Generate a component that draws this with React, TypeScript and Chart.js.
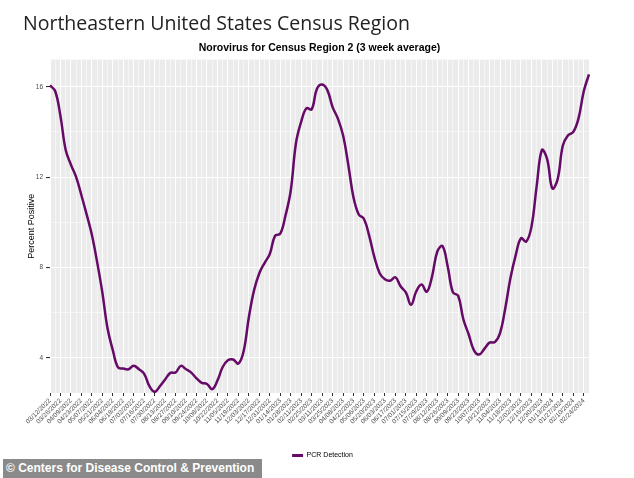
import React, { useEffect, useRef } from 'react';
import { Chart, registerables } from 'chart.js';

Chart.register(...registerables);

const WEEKS: string[] = [
  '03/12/2022', '03/19/2022', '03/26/2022', '04/02/2022', '04/09/2022', '04/16/2022', '04/23/2022', '04/30/2022',
  '05/07/2022', '05/14/2022', '05/21/2022', '05/28/2022', '06/04/2022', '06/11/2022', '06/18/2022', '06/25/2022',
  '07/02/2022', '07/09/2022', '07/16/2022', '07/23/2022', '07/30/2022', '08/06/2022', '08/13/2022', '08/20/2022',
  '08/27/2022', '09/03/2022', '09/10/2022', '09/17/2022', '09/24/2022', '10/01/2022', '10/08/2022', '10/15/2022',
  '10/22/2022', '10/29/2022', '11/05/2022', '11/12/2022', '11/19/2022', '11/26/2022', '12/03/2022', '12/10/2022',
  '12/17/2022', '12/24/2022', '12/31/2022',
  '01/07/2023', '01/14/2023', '01/21/2023', '01/28/2023', '02/04/2023', '02/11/2023', '02/18/2023', '02/25/2023',
  '03/04/2023', '03/11/2023', '03/18/2023', '03/25/2023', '04/01/2023', '04/08/2023', '04/15/2023', '04/22/2023',
  '04/29/2023', '05/06/2023', '05/13/2023', '05/20/2023', '05/27/2023', '06/03/2023', '06/10/2023', '06/17/2023',
  '06/24/2023', '07/01/2023', '07/08/2023', '07/15/2023', '07/22/2023', '07/29/2023', '08/05/2023', '08/12/2023',
  '08/19/2023', '08/26/2023', '09/02/2023', '09/09/2023', '09/16/2023', '09/23/2023', '09/30/2023', '10/07/2023',
  '10/14/2023', '10/21/2023', '10/28/2023', '11/04/2023', '11/11/2023', '11/18/2023', '11/25/2023', '12/02/2023',
  '12/09/2023', '12/16/2023', '12/23/2023', '12/30/2023',
  '01/06/2024', '01/13/2024', '01/20/2024', '01/27/2024', '02/03/2024', '02/10/2024', '02/17/2024', '02/24/2024',
  '03/02/2024',
];

const TICK_LABELS: string[] = [
  '03/12/2022', '03/26/2022', '04/09/2022', '04/23/2022', '05/07/2022', '05/21/2022', '06/04/2022', '06/18/2022',
  '07/02/2022', '07/16/2022', '07/30/2022', '08/13/2022', '08/27/2022', '09/10/2022', '09/24/2022', '10/08/2022',
  '10/22/2022', '11/05/2022', '11/19/2022', '12/03/2022', '12/17/2022', '12/31/2022', '01/14/2023', '01/28/2023',
  '02/11/2023', '02/25/2023', '03/11/2023', '03/25/2023', '04/08/2023', '04/22/2023', '05/06/2023', '05/20/2023',
  '06/03/2023', '06/17/2023', '07/01/2023', '07/15/2023', '07/29/2023', '08/12/2023', '08/26/2023', '09/09/2023',
  '09/23/2023', '10/07/2023', '10/21/2023', '11/04/2023', '11/18/2023', '12/02/2023', '12/16/2023', '12/30/2023',
  '01/13/2024', '01/27/2024', '02/10/2024', '02/24/2024',
];

const PCR_DETECTION: number[] = [
  16.06, 15.8, 14.7, 13.2, 12.55, 12.0, 11.2, 10.35, 9.45, 8.25,
  6.9, 5.3, 4.35, 3.58, 3.53, 3.5, 3.66, 3.5, 3.3, 2.75,
  2.5, 2.75, 3.05, 3.34, 3.36, 3.65, 3.5, 3.35, 3.1, 2.9,
  2.85, 2.62, 3.0, 3.6, 3.9, 3.93, 3.75, 4.3, 5.8, 7.0,
  7.75, 8.2, 8.6, 9.4, 9.5, 10.3, 11.4, 13.5, 14.45, 15.05,
  15.0, 15.9, 16.1, 15.85, 15.1, 14.6, 13.85, 12.55, 11.1, 10.35,
  10.15, 9.4, 8.45, 7.75, 7.48, 7.42, 7.57, 7.17, 6.9, 6.35,
  6.95, 7.25, 6.93, 7.6, 8.7, 8.95, 8.05, 6.9, 6.75, 5.7,
  5.05, 4.35, 4.15, 4.4, 4.68, 4.7, 5.1, 6.2, 7.55, 8.55,
  9.3, 9.15, 9.8, 11.6, 13.2, 12.8, 11.5, 11.9, 13.4, 13.85,
  14.0, 14.6, 15.8, 16.55,
];

const Y_MAJOR: number[] = [4, 8, 12, 16];

const FONT = "'Liberation Sans', Arial, sans-serif";

export default function App() {
  const ref = useRef<HTMLCanvasElement>(null);

  useEffect(() => {
    if (!ref.current) return;
    const panelBg = {
      id: 'panelBg',
      beforeDraw(chart: any) {
        const { ctx, chartArea: a } = chart;
        ctx.save();
        ctx.fillStyle = '#EBEBEB';
        ctx.fillRect(a.left, a.top, a.right - a.left, a.bottom - a.top);
        ctx.restore();
      },
    };
    const centerBlocks = {
      id: 'centerBlocks',
      afterLayout(chart: any) {
        const a = chart.chartArea;
        const mid = (a.left + a.right) / 2;
        const shift = (b: any, extra: number) => {
          if (!b) return;
          const cur = (b.left + b.right) / 2;
          const d = mid + extra - cur;
          b.left += d;
          b.right += d;
        };
        shift(chart.titleBlock, 0);
        shift(chart.legend, 3);
      },
    };
    const isMajorX = (i: number) => TICK_LABELS.includes(WEEKS[i]);
    const chart = new Chart(ref.current, {
      type: 'line',
      data: {
        labels: WEEKS,
        datasets: [
          {
            label: 'PCR Detection',
            data: PCR_DETECTION,
            borderColor: '#650A66',
            backgroundColor: '#650A66',
            borderWidth: 2.5,
            pointRadius: 0,
            tension: 0.4,
            fill: false,
          },
        ],
      },
      options: {
        animation: false,
        responsive: false,
        layout: { padding: { top: 42, left: 0, right: 45, bottom: 9 } },
        plugins: {
          title: {
            display: true,
            text: 'Norovirus for Census Region 2 (3 week average)',
            color: '#000',
            font: { family: FONT, size: 10.5, weight: 'bold' },
            padding: { top: 0, bottom: 5 },
          },
          legend: {
            position: 'bottom',
            labels: {
              boxWidth: 11,
              boxHeight: 3,
              color: '#000',
              padding: 10,
              font: { family: FONT, size: 7 },
              generateLabels: (c: any) =>
                (Chart.defaults.plugins.legend.labels as any)
                  .generateLabels(c)
                  .map((l: any) => ({ ...l, lineWidth: 0 })),
            },
          },
          tooltip: { enabled: false },
        },
        scales: {
          x: {
            type: 'category',
            offset: false,
            border: { display: false },
            grid: {
              color: '#FFFFFF',
              lineWidth: (ctx: any) => (isMajorX(ctx.index) ? 1 : 0.5),
              tickColor: (ctx: any) => (isMajorX(ctx.index) ? '#333333' : 'rgba(0,0,0,0)'),
              tickLength: 3,
              tickWidth: 1,
            },
            ticks: {
              autoSkip: false,
              maxRotation: 45,
              minRotation: 45,
              padding: 1,
              color: '#4D4D4D',
              font: { family: FONT, size: 6.5 },
              callback: (_v: any, i: number) => (isMajorX(i) ? WEEKS[i] : ''),
            },
            afterFit: (scale: any) => {
              scale.height = 49;
            },
          },
          y: {
            min: 2.45,
            max: 17.2,
            border: { display: false },
            grid: {
              color: '#FFFFFF',
              lineWidth: (ctx: any) => (Y_MAJOR.includes(ctx.tick?.value) ? 1.1 : 0.5),
              tickColor: (ctx: any) => (Y_MAJOR.includes(ctx.tick?.value) ? '#333333' : 'rgba(0,0,0,0)'),
              tickLength: 4,
            },
            ticks: {
              stepSize: 2,
              includeBounds: false,
              padding: 3,
              color: '#4D4D4D',
              font: { family: FONT, size: 6.5 },
              callback: (v: any) => (Y_MAJOR.includes(v) ? String(v) : ''),
            },
            title: {
              display: true,
              text: 'Percent Positive',
              color: '#000',
              font: { family: FONT, size: 9 },
              padding: { top: 26.6, bottom: 0 },
            },
            afterFit: (scale: any) => {
              scale.width = 50;
            },
          },
        },
      },
      plugins: [panelBg, centerBlocks],
    } as any);
    return () => chart.destroy();
  }, []);

  return (
    <div style={{ position: 'absolute', left: 0, top: 0, width: 634, height: 478, background: '#FFFFFF', overflow: 'hidden' }}>
      <canvas ref={ref} width={634} height={478} style={{ position: 'absolute', left: 0, top: 0, display: 'block' }} />
      <div
        style={{
          position: 'absolute',
          left: 23,
          top: 13,
          fontFamily: "'Open Sans', sans-serif",
          fontSize: 19.5,
          lineHeight: '19px',
          color: '#222222',
          whiteSpace: 'nowrap',
        }}
      >
        Northeastern United States Census Region
      </div>
      <div
        style={{
          position: 'absolute',
          left: 3,
          top: 459,
          width: 259,
          height: 19,
          background: '#8A8A8A',
          color: '#FFFFFF',
          fontFamily: FONT,
          fontWeight: 'bold',
          fontSize: 12,
          lineHeight: '19px',
          paddingLeft: 3,
          boxSizing: 'border-box',
          whiteSpace: 'nowrap',
        }}
      >
        © Centers for Disease Control &amp; Prevention
      </div>
    </div>
  );
}
